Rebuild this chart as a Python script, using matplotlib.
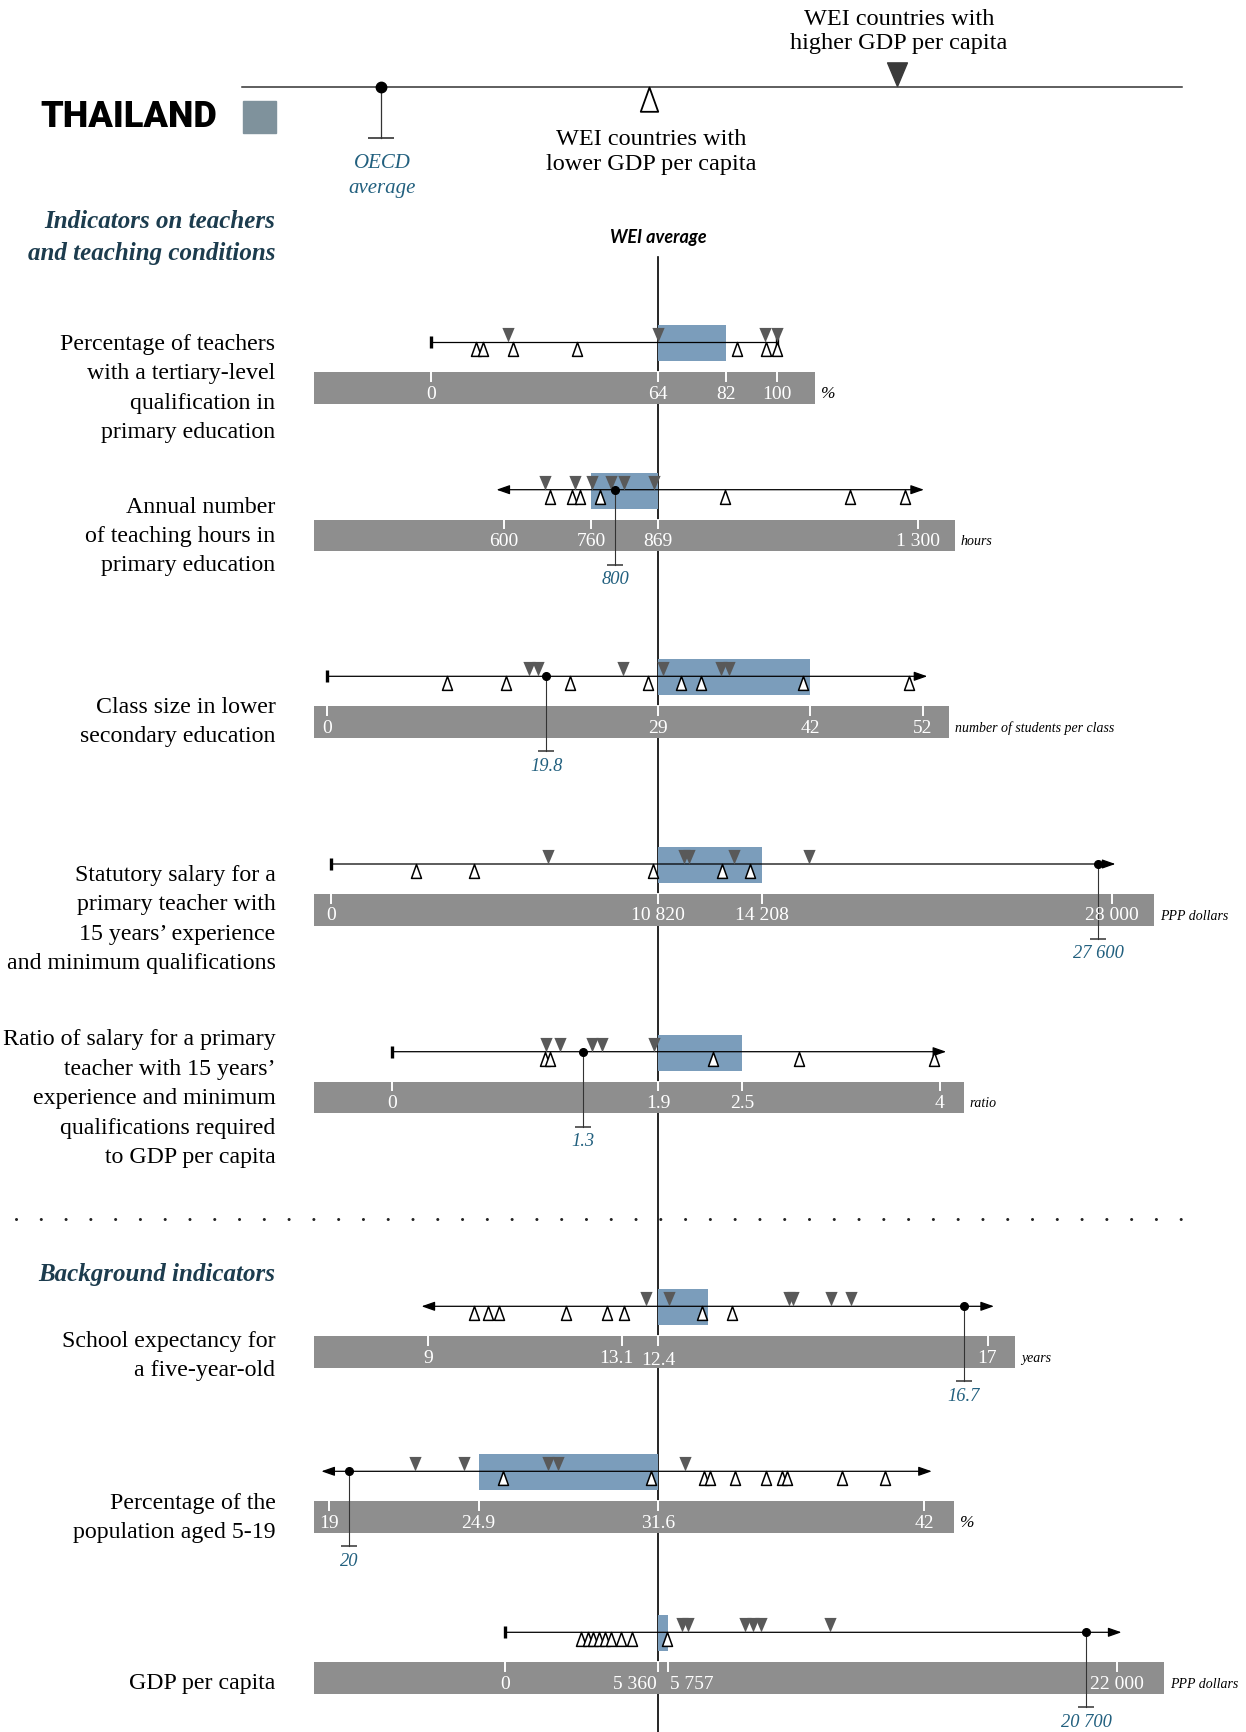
import numpy as np
import matplotlib.pyplot as plt
from matplotlib.path import Path

# ---------------- values ----------------
# 1. teachers with a tertiary-level qualification, primary (%)
tert_ticks = [0, 64, 82, 100]
tert_tick_labels = ['0', '64', '82', '100']
tert_wei, tert_thai = 64, 82
tert_lower = [12.7, 14.7, 23.2, 41.1, 85.7, 96.2, 100]
tert_higher = [21.8, 64.1, 95.8, 100]
tert_range = [0, 100]

# 2. annual teaching hours, primary
hours_ticks = [600, 760, 869, 1300]
hours_tick_labels = ['600', '760', '869', '1 300']
hours_wei, hours_thai = 869, 760
hours_lower = [685, 725, 740, 774, 980, 1187, 1279]
hours_higher = [675, 731, 761, 793, 813, 863]
hours_oecd, hours_oecd_label = 799, '800'
hours_range = [587, 1310]

# 3. class size, lower secondary
class_ticks = [0, 29, 42, 52]
class_tick_labels = ['0', '29', '42', '52']
class_wei, class_thai = 29, 42
class_lower = [10.5, 15.7, 21.3, 28.1, 31.0, 32.7, 41.4, 50.8]
class_higher = [17.7, 18.5, 25.9, 29.4, 34.4, 35.1]
class_oecd, class_oecd_label = 19.2, '19.8'
class_range = [0, 52.4]

# 4. statutory salary, 15 years' experience (PPP dollars)
sal_ticks = [0, 10820, 14208, 28000]
sal_tick_labels = ['0', '10 820', '14 208', '28 000']
sal_wei, sal_thai = 10820, 14208
sal_lower = [2813, 4711, 10643, 12900, 13820]
sal_higher = [7187, 11682, 11840, 13300, 16086]
sal_oecd, sal_oecd_label = 27450, '27 600'
sal_range = [0, 28130]

# 5. ratio of salary to GDP per capita
ratio_ticks = [0, 1.9, 2.5, 4]
ratio_tick_labels = ['0', '1.9', '2.5', '4']
ratio_wei, ratio_thai = 1.9, 2.5
ratio_lower = [1.09, 1.13, 2.29, 2.93, 3.96]
ratio_higher = [1.10, 1.20, 1.43, 1.50, 1.87]
ratio_oecd, ratio_oecd_label = 1.36, '1.3'
ratio_range = [0, 4.05]

# 6. school expectancy for a five-year-old (years)
school_ticks = [9, 11.87, 12.4, 17]
school_tick_labels = ['9', '13.1', '12.4', '17']
school_wei, school_thai = 12.4, 13.1
school_lower = [9.68, 9.88, 10.05, 11.04, 11.64, 11.90, 13.01, 13.43]
school_higher = [12.22, 12.56, 14.23, 14.29, 14.82, 15.09]
school_oecd, school_oecd_label = 16.67, '16.7'
school_range = [8.9, 17.09]

# 7. population aged 5-19 (%)
pop_ticks = [19, 24.9, 31.6, 42]
pop_tick_labels = ['19', '24.9', '31.6', '42']
pop_wei, pop_thai = 31.6, 24.9
pop_lower = [25.82, 31.35, 33.41, 33.62, 34.59, 35.82, 36.46, 36.64, 38.78, 40.47]
pop_higher = [22.38, 24.33, 27.51, 27.88, 32.64]
pop_oecd, pop_oecd_label = 19.79, '20'
pop_range = [18.7, 42.3]

# 8. GDP per capita (PPP dollars)
gdp_ticks = [0, 5360, 5757, 22000]
gdp_tick_labels = ['0', '5 360', '5 757', '22 000']
gdp_wei, gdp_thai = 5360, 5757
gdp_lower = [2666, 2894, 3086, 3296, 3506, 3716, 4066, 4451, 5730]
gdp_higher = [6250, 6490, 8553, 8819, 9124, 11614]
gdp_oecd, gdp_oecd_label = 20900, '20 700'
gdp_range = [0, 22180]

panel_titles = [
    ['Percentage of teachers', 'with a tertiary-level', 'qualification in', 'primary education'],
    ['Annual number', 'of teaching hours in', 'primary education'],
    ['Class size in lower', 'secondary education'],
    ['Statutory salary for a', 'primary teacher with', '15 years\u2019 experience',
     'and minimum qualifications'],
    ['Ratio of salary for a primary', 'teacher with 15 years\u2019', 'experience and minimum',
     'qualifications required', 'to GDP per capita'],
    ['School expectancy for', 'a five-year-old'],
    ['Percentage of the', 'population aged 5-19'],
    ['GDP per capita'],
]
units = ['%', 'hours', 'number of students per class', 'PPP dollars', 'ratio', 'years', '%',
         'PPP dollars']

panels = [
    dict(ticks=tert_ticks, tl=tert_tick_labels, wei=tert_wei, thai=tert_thai, low=tert_lower,
         high=tert_higher, oecd=None, ol=None, rng=tert_range, ends='cap-cap'),
    dict(ticks=hours_ticks, tl=hours_tick_labels, wei=hours_wei, thai=hours_thai, low=hours_lower,
         high=hours_higher, oecd=hours_oecd, ol=hours_oecd_label, rng=hours_range, ends='arrow-arrow'),
    dict(ticks=class_ticks, tl=class_tick_labels, wei=class_wei, thai=class_thai, low=class_lower,
         high=class_higher, oecd=class_oecd, ol=class_oecd_label, rng=class_range, ends='cap-arrow'),
    dict(ticks=sal_ticks, tl=sal_tick_labels, wei=sal_wei, thai=sal_thai, low=sal_lower,
         high=sal_higher, oecd=sal_oecd, ol=sal_oecd_label, rng=sal_range, ends='cap-arrow'),
    dict(ticks=ratio_ticks, tl=ratio_tick_labels, wei=ratio_wei, thai=ratio_thai, low=ratio_lower,
         high=ratio_higher, oecd=ratio_oecd, ol=ratio_oecd_label, rng=ratio_range, ends='cap-arrow'),
    dict(ticks=school_ticks, tl=school_tick_labels, wei=school_wei, thai=school_thai, low=school_lower,
         high=school_higher, oecd=school_oecd, ol=school_oecd_label, rng=school_range, ends='arrow-arrow'),
    dict(ticks=pop_ticks, tl=pop_tick_labels, wei=pop_wei, thai=pop_thai, low=pop_lower,
         high=pop_higher, oecd=pop_oecd, ol=pop_oecd_label, rng=pop_range, ends='arrow-arrow'),
    dict(ticks=gdp_ticks, tl=gdp_tick_labels, wei=gdp_wei, thai=gdp_thai, low=gdp_lower,
         high=gdp_higher, oecd=gdp_oecd, ol=gdp_oecd_label, rng=gdp_range, ends='cap-arrow'),
]

# ---------------- layout (pixels of the 1246 x 1733 canvas) ----------------
W, H = 1246, 1733
WEI_PX = 658
line_y = [343.3, 490.7, 677.3, 865, 1052.7, 1307.3, 1472.3, 1633.3]
tick_px = [[431.1, WEI_PX, 726.1, 776.8],
           [503.6, 591.1, WEI_PX, 917.9],
           [326.8, WEI_PX, 810.3, 922.8],
           [331.4, WEI_PX, 761.6, 1112.1],
           [392.4, WEI_PX, 742.3, 939.6],
           [428.3, 622.3, WEI_PX, 987.5],
           [329.0, 478.6, WEI_PX, 924.1],
           [504.8, WEI_PX, 668.0, 1116.5]]
bar_left = 313.5
bar_right = [815, 954.9, 948.7, 1153.8, 963.5, 1014.8, 954, 1164]
title_y = [344.5, 507, 707, 875.5, 1040, 1341, 1503, 1683.5]
# per panel tick label tweaks: (ha, dx pt, dy pt)
tick_align = {5: [('center', 0, 0), ('center', -4.5, 0), ('center', 0, -1.5), ('center', 0, 0)],
              7: [('center', 0, 0), ('right', -0.7, 0), ('left', 1.2, 0), ('center', 0, 0)]}

GRAY = '#8e8e8e'
BLUE = '#7b9dbb'
DARK = '#595959'
NAVY = '#1c3c4e'
OECD_C = '#22607f'
SERIF = 'Liberation Serif'

up_tri = Path([(0, 0), (0.36, -1), (-0.36, -1), (0, 0)],
              [Path.MOVETO, Path.LINETO, Path.LINETO, Path.CLOSEPOLY])
down_tri = Path([(0, 0), (0.42, 1), (-0.42, 1), (0, 0)],
                [Path.MOVETO, Path.LINETO, Path.LINETO, Path.CLOSEPOLY])


def piecewise(vals, pix):
    v = np.asarray(vals, float)
    p = np.asarray(pix, float)

    def fwd(x):
        x = np.asarray(x, float)
        y = np.interp(x, v, p)
        y = np.where(x < v[0], p[0] + (x - v[0]) * (p[1] - p[0]) / (v[1] - v[0]), y)
        y = np.where(x > v[-1], p[-1] + (x - v[-1]) * (p[-1] - p[-2]) / (v[-1] - v[-2]), y)
        return y

    def inv(y):
        y = np.asarray(y, float)
        x = np.interp(y, p, v)
        x = np.where(y < p[0], v[0] + (y - p[0]) * (v[1] - v[0]) / (p[1] - p[0]), x)
        x = np.where(y > p[-1], v[-1] + (y - p[-1]) * (v[-1] - v[-2]) / (p[-1] - p[-2]), x)
        return x

    return fwd, inv


fig = plt.figure(figsize=(W / 100, H / 100), dpi=100)

# background canvas in pixel units
ax0 = fig.add_axes([0, 0, 1, 1], zorder=0)
ax0.set_xlim(0, W)
ax0.set_ylim(H, 0)
ax0.axis('off')

# WEI average reference line (sits under the grey bands)
ax0.plot([WEI_PX, WEI_PX], [258, H], color='black', lw=1.2, zorder=1)
ax0.text(WEI_PX, 237, 'WEI average', ha='center', va='center', fontsize=13,
         fontweight='bold', style='italic', family=['Lato', 'DejaVu Sans'])

# header / legend
ax0.text(217, 116.5, 'THAILAND', ha='right', va='center', fontsize=26, fontweight='black',
         family=['Roboto', 'DejaVu Sans'])
ax0.add_patch(plt.Rectangle((243.3, 101.7), 32.7, 32.3, color='#7f929c'))
ax0.plot([242, 1182], [87.7, 87.7], color='#333333', lw=1.1)
ax0.plot([381, 381], [88, 138.5], color='#333333', lw=0.9)
ax0.plot([381], [138.5], marker='_', ms=19, mew=1.2, color='#333333')
ax0.plot([381], [87.7], marker='o', ms=7.5, color='black')
ax0.plot([649], [88.3], marker=up_tri, ms=35, mfc='white', mec='black', mew=1.3, ls='none')
ax0.plot([897], [87.3], marker=down_tri, ms=34, color='#3a3a3a', ls='none')
ax0.text(382, 163, 'OECD', ha='center', va='center', fontsize=15, style='italic',
         color=OECD_C, family=SERIF)
ax0.text(382, 188, 'average', ha='center', va='center', fontsize=15, style='italic',
         color=OECD_C, family=SERIF)
for txt, yy in [('WEI countries with', 139), ('lower GDP per capita', 164)]:
    ax0.text(651, yy, txt, ha='center', va='center', fontsize=17.5, family=SERIF)
for txt, yy in [('WEI countries with', 19), ('higher GDP per capita', 43.5)]:
    ax0.text(899, yy, txt, ha='center', va='center', fontsize=17.5, family=SERIF)

for txt, yy in [('Indicators on teachers', 221), ('and teaching conditions', 253),
                ('Background indicators', 1274)]:
    ax0.text(275.5, yy, txt, ha='right', va='center', fontsize=18, fontweight='bold',
             style='italic', color=NAVY, family=SERIF)

# dotted separator
ax0.plot([15.5, 1181], [1219.5, 1219.5], color='#222222', lw=2.2, ls=(0, (0.01, 8.1)),
         dash_capstyle='round')

for i, lines in enumerate(panel_titles):
    for j, txt in enumerate(lines):
        ax0.text(275.5, title_y[i] + j * 29.4, txt, ha='right', va='center', fontsize=17.2,
                 family=SERIF)

# grey value bands + unit names
for i in range(len(panels)):
    top = line_y[i] + 30
    ax0.add_patch(plt.Rectangle((bar_left, top), bar_right[i] - bar_left, 31.5, color=GRAY,
                                zorder=2, lw=0))
    ax0.text(bar_right[i] + 6, top + 21, units[i], ha='left', va='center',
             fontsize=10 if units[i] != '%' else 12.5, style='italic', family=SERIF)

# one transparent axes per indicator, each with its own piecewise scale
for i, p in enumerate(panels):
    fwd, inv = piecewise(p['ticks'], tick_px[i])
    ax = fig.add_axes([0, 0, 1, 1], zorder=1)
    ax.set_xscale('function', functions=(fwd, inv))
    ax.set_xlim(float(inv(0)), float(inv(W)))
    ax.set_ylim(H, 0)
    ax.set_autoscale_on(False)
    ax.axis('off')
    ax.patch.set_alpha(0)

    ly = line_y[i]
    top = ly + 30

    # Thailand box from WEI average to country value
    ax.barh(ly + 1, p['thai'] - p['wei'], left=p['wei'], height=36, color=BLUE, zorder=1)

    # range line with caps / arrows
    lo, hi = p['rng']
    if p['ends'] == 'cap-cap':
        ax.plot([lo, hi], [ly, ly], color='black', lw=0.9, zorder=3)
        ax.plot([lo, hi], [ly, ly], ls='none', marker='|', ms=8.5, mew=2.4, color='black',
                zorder=3)
    else:
        style = '<|-|>' if p['ends'] == 'arrow-arrow' else '-|>'
        ax.annotate('', xy=(hi, ly), xytext=(lo, ly),
                    arrowprops=dict(arrowstyle=style + ',head_length=0.8,head_width=0.28',
                                    color='black', lw=0.9, shrinkA=0, shrinkB=0), zorder=3)
        if p['ends'] == 'cap-arrow':
            ax.plot([lo], [ly], ls='none', marker='|', ms=8.5, mew=2.4, color='black', zorder=3)

    # OECD average
    if p['oecd'] is not None:
        ax.plot([p['oecd'], p['oecd']], [ly, ly + 75], color='#333333', lw=0.8, zorder=3)
        ax.plot([p['oecd']], [ly + 75], marker='_', ms=11.5, mew=1.1, color='#333333', zorder=3)
        ax.plot([p['oecd']], [ly], marker='o', ms=5.5, color='black', zorder=5)
        ax.text(p['oecd'], ly + 89, p['ol'], ha='center', va='center', fontsize=13.3,
                style='italic', color=OECD_C, family=SERIF, zorder=5)

    # WEI countries
    ax.plot(p['low'], [ly] * len(p['low']), ls='none', marker=up_tri, ms=20, mfc='white',
            mec='black', mew=1.1, zorder=4)
    ax.plot(p['high'], [ly] * len(p['high']), ls='none', marker=down_tri, ms=21, mfc=DARK,
            mec='none', zorder=4)

    # tick marks and labels on the grey band
    align = tick_align.get(i, [('center', 0, 0)] * len(p['ticks']))
    for (v, lab), (ha, dx, dy) in zip(zip(p['ticks'], p['tl']), align):
        ax.plot([v, v], [top, top + 8.5], color='white', lw=1.4, zorder=3)
        ax.annotate(lab, xy=(v, top + 21), xytext=(dx, dy), textcoords='offset points',
                    ha=ha, va='center', color='white', fontsize=14, family=SERIF, zorder=3)

fig.savefig('out.png', dpi=100)
